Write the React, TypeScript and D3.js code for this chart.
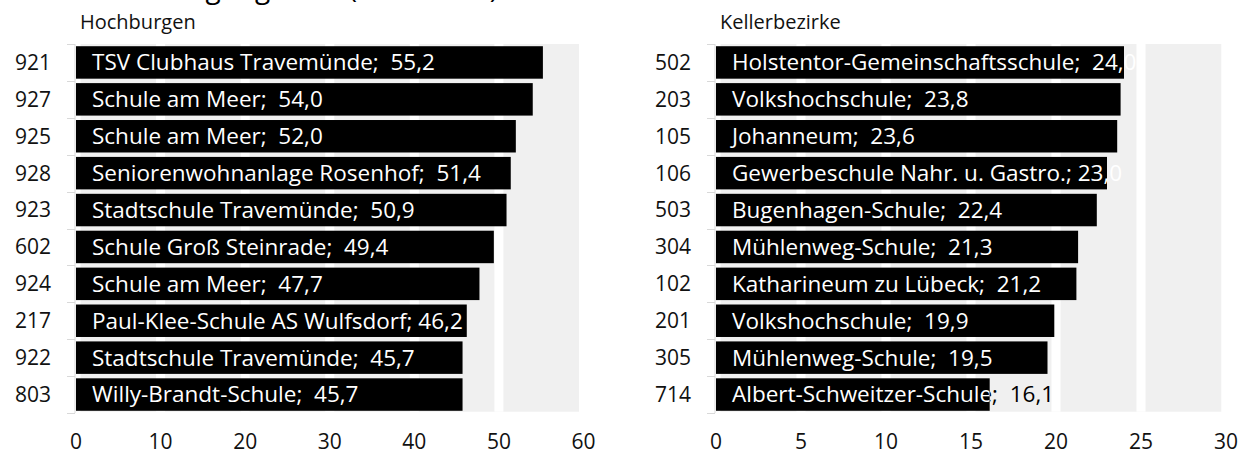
import React, { useEffect, useRef } from 'react';
import * as d3 from 'd3';

// Hochburgen (left panel)
const leftIds = ['921', '927', '925', '928', '923', '602', '924', '217', '922', '803'];
const leftNames = [
  'TSV Clubhaus Travemünde',
  'Schule am Meer',
  'Schule am Meer',
  'Seniorenwohnanlage Rosenhof',
  'Stadtschule Travemünde',
  'Schule Groß Steinrade',
  'Schule am Meer',
  'Paul-Klee-Schule AS Wulfsdorf',
  'Stadtschule Travemünde',
  'Willy-Brandt-Schule',
];
const leftValues = [55.2, 54.0, 52.0, 51.4, 50.9, 49.4, 47.7, 46.2, 45.7, 45.7];
const leftTicks = [0, 10, 20, 30, 40, 50, 60];

// Kellerbezirke (right panel)
const rightIds = ['502', '203', '105', '106', '503', '304', '102', '201', '305', '714'];
const rightNames = [
  'Holstentor-Gemeinschaftsschule',
  'Volkshochschule',
  'Johanneum',
  'Gewerbeschule Nahr. u. Gastro.',
  'Bugenhagen-Schule',
  'Mühlenweg-Schule',
  'Katharineum zu Lübeck',
  'Volkshochschule',
  'Mühlenweg-Schule',
  'Albert-Schweitzer-Schule',
];
const rightValues = [24.0, 23.8, 23.6, 23.0, 22.4, 21.3, 21.2, 19.9, 19.5, 16.1];
const rightTicks = [0, 5, 10, 15, 20, 25, 30];

// labels that were squeezed to a single space in the original
const tightLabels = new Set(['Paul-Klee-Schule AS Wulfsdorf', 'Gewerbeschule Nahr. u. Gastro.']);

const width = 1247;
const height = 454;
const font = "'Open Sans', 'Noto Sans', sans-serif";

const fmt = (v) => d3.format('.1f')(v).replace('.', ',');

const App = () => {
  const svgRef = useRef(null);

  useEffect(() => {
    const svg = d3.select(svgRef.current);
    svg.selectAll('*').remove();
    const defs = svg.append('defs');

    // main title, cut off by the top edge in the original
    svg.append('text')
      .attr('x', 60)
      .attr('y', -2)
      .attr('font-family', font)
      .attr('font-size', 28)
      .attr('fill', '#000')
      .text('Wahlbeteiligung 2023 (in Prozent)');

    const panels = [
      { title: 'Hochburgen', ids: leftIds, names: leftNames, values: leftValues, ticks: leftTicks, x0: 76, x1: 583.5, max: 60 },
      { title: 'Kellerbezirke', ids: rightIds, names: rightNames, values: rightValues, ticks: rightTicks, x0: 716, x1: 1226, max: 30 },
    ];

    panels.forEach((p, pi) => {
      const g = svg.append('g');
      const x = d3.scaleLinear().domain([0, p.max]).range([p.x0, p.x1]);
      const y = d3.scaleBand().domain(p.ids).range([44, 413]).paddingInner(0.12).paddingOuter(0.06);
      const gw = 9;

      // grey background
      g.append('rect')
        .attr('x', p.x0)
        .attr('y', 44)
        .attr('width', p.x1 - gw / 2 - p.x0)
        .attr('height', 413 - 44 - 1.3)
        .attr('fill', '#f0f0f0');

      // white gridlines
      g.selectAll('.grid')
        .data(p.ticks)
        .enter()
        .append('rect')
        .attr('x', (d) => x(d) - gw / 2)
        .attr('y', 44)
        .attr('width', gw)
        .attr('height', 413 - 44 - 1.3)
        .attr('fill', '#fff');

      // y axis line + ticks
      const bounds = [44, ...p.ids.map((d) => y(d) + y.bandwidth() + (y.step() - y.bandwidth()) / 2)];
      g.append('line')
        .attr('x1', p.x0 - 1).attr('x2', p.x0 - 1)
        .attr('y1', 44).attr('y2', 413)
        .attr('stroke', '#d9d9d9').attr('stroke-width', 1);
      g.selectAll('.ytick')
        .data(bounds)
        .enter()
        .append('line')
        .attr('x1', p.x0 - 9).attr('x2', p.x0 - 1)
        .attr('y1', (d) => Math.round(d) + 0.5).attr('y2', (d) => Math.round(d) + 0.5)
        .attr('stroke', '#d9d9d9').attr('stroke-width', 1);

      // category labels
      g.selectAll('.ylab')
        .data(p.ids)
        .enter()
        .append('text')
        .attr('x', p.x0 - 25)
        .attr('y', (d) => y(d) + y.bandwidth() / 2)
        .attr('dy', '0.35em')
        .attr('text-anchor', 'end')
        .attr('font-family', font)
        .attr('font-size', 21)
        .attr('fill', '#111')
        .text((d) => d);

      // bars
      g.selectAll('.bar')
        .data(p.values)
        .enter()
        .append('rect')
        .attr('x', x(0))
        .attr('y', (d, i) => y(p.ids[i]))
        .attr('width', (d) => x(d) - x(0))
        .attr('height', y.bandwidth())
        .attr('fill', '#000');

      // bar labels: white inside the bar, outside colour depends on overflow
      p.values.forEach((v, i) => {
        const name = p.names[i];
        const label = `${name};${tightLabels.has(name) ? ' ' : '  '}${fmt(v)}`;
        const yy = y(p.ids[i]) + y.bandwidth() / 2;
        const idIn = `in-${pi}-${i}`;
        const idOut = `out-${pi}-${i}`;
        defs.append('clipPath').attr('id', idIn)
          .append('rect').attr('x', x(0)).attr('y', y(p.ids[i])).attr('width', x(v) - x(0)).attr('height', y.bandwidth());
        defs.append('clipPath').attr('id', idOut)
          .append('rect').attr('x', x(v)).attr('y', y(p.ids[i]) - 5).attr('width', 400).attr('height', y.bandwidth() + 10);

        const makeText = (clip, color) => g.append('text')
          .attr('x', x(0) + 16)
          .attr('y', yy)
          .attr('dy', '0.35em')
          .attr('font-family', font)
          .attr('font-size', 22.5)
          .attr('fill', color)
          .attr('clip-path', `url(#${clip})`)
          .style('white-space', 'pre')
          .text(label);

        const inside = makeText(idIn, '#fff');
        const textEnd = x(0) + 16 + inside.node().getComputedTextLength();
        makeText(idOut, textEnd - x(v) > 30 ? '#000' : '#fff');
      });

      // x tick labels
      g.selectAll('.xlab')
        .data(p.ticks)
        .enter()
        .append('text')
        .attr('x', (d) => x(d))
        .attr('y', 449)
        .attr('text-anchor', 'middle')
        .attr('font-family', font)
        .attr('font-size', 21)
        .attr('fill', '#111')
        .text((d) => d);

      // panel title
      g.append('text')
        .attr('x', p.x0 + 4)
        .attr('y', 29)
        .attr('font-family', font)
        .attr('font-size', 20)
        .attr('fill', '#111')
        .text(p.title);
    });

    return () => {
      svg.selectAll('*').remove();
    };
  }, []);

  return (
    <svg
      ref={svgRef}
      width={width}
      height={height}
      style={{ position: 'absolute', left: 0, top: 0, background: '#fff' }}
    />
  );
};

export default App;
